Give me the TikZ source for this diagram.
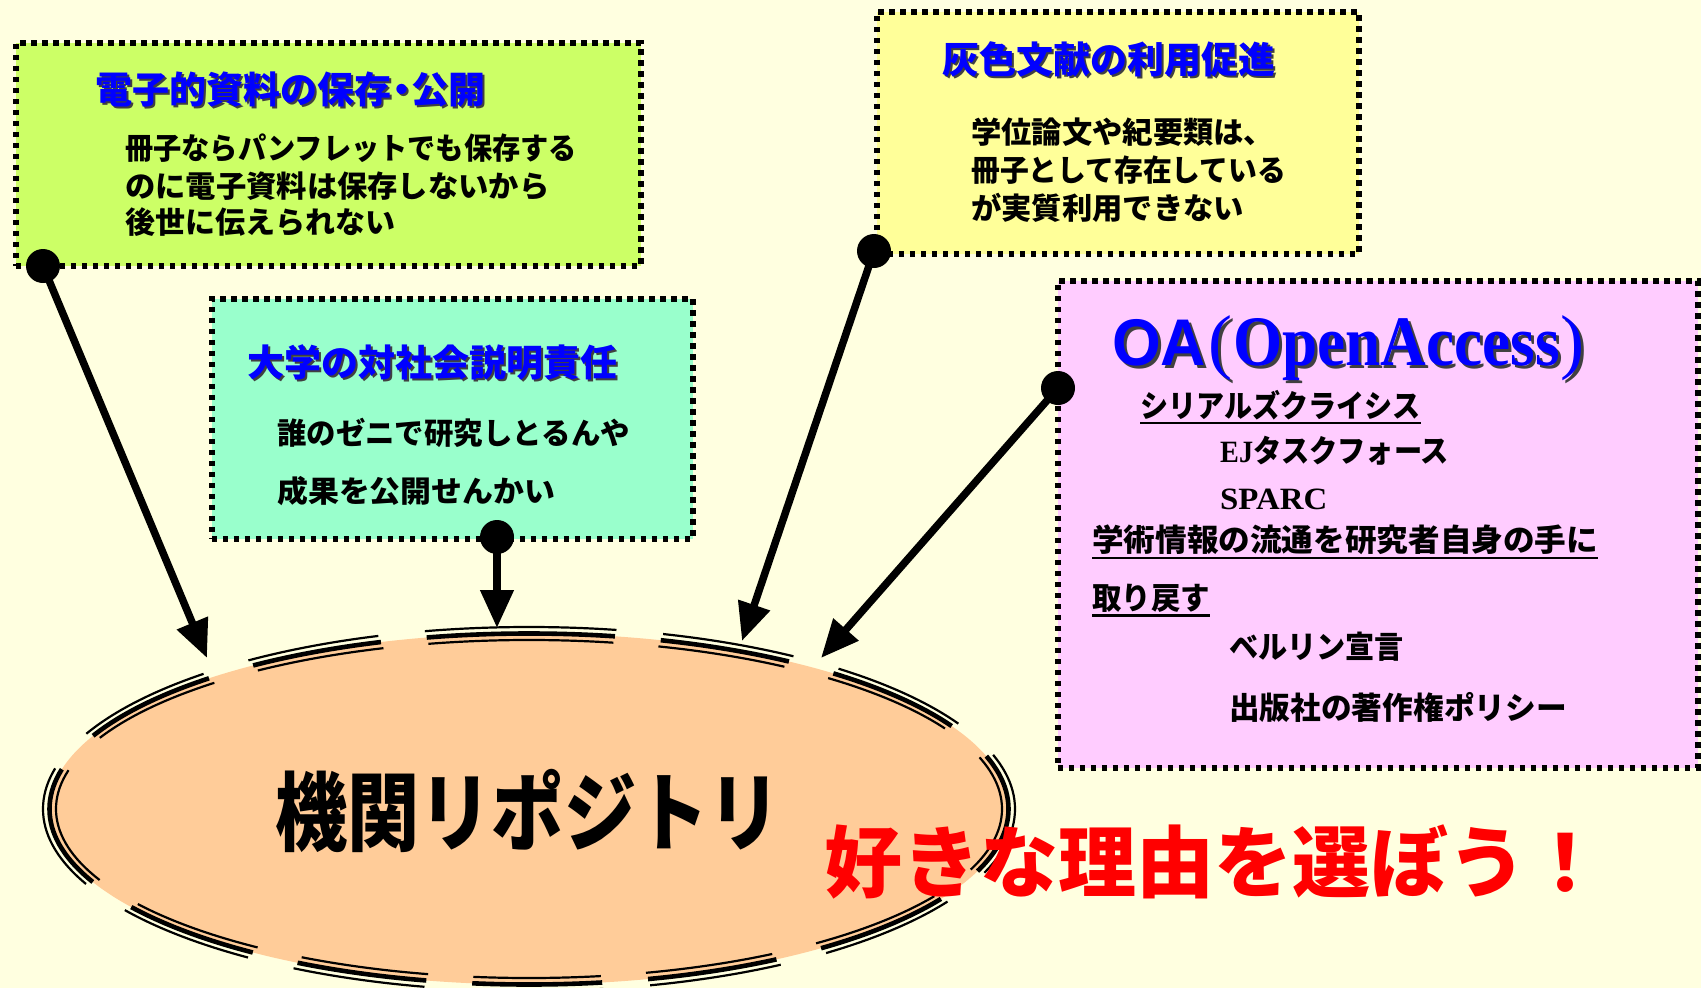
\documentclass[tikz,border=0pt]{standalone}
\usepackage{fontspec}
\setmainfont{Noto Sans CJK JP}
\newfontfamily\tms{Liberation Serif}
\newfontfamily\ars{Liberation Sans}
\usetikzlibrary{arrows.meta}
\definecolor{bgc}{RGB}{255,255,224}
\definecolor{greenbox}{RGB}{204,255,102}
\definecolor{yellowbox}{RGB}{255,255,153}
\definecolor{tealbox}{RGB}{153,255,204}
\definecolor{pinkbox}{RGB}{255,204,255}
\definecolor{peach}{RGB}{255,204,153}
\definecolor{ttlblue}{RGB}{0,0,255}
\definecolor{redtxt}{RGB}{255,0,0}
\newcommand\fsz[1]{\fontsize{#1}{#1}\selectfont}
\newcommand\cx[2]{\scalebox{#1}[1]{#2}}
\newcommand\shd[2]{\makebox[0pt][l]{\hspace*{#1}\raisebox{-#1}{\color{black!75}#2}}{\color{ttlblue}#2}}
\tikzset{
  boxnode/.style={draw=black, line width=5.5pt, dash pattern=on 5.5pt off 5.5pt, anchor=north west, inner sep=0pt},
  dotnode/.style={circle, fill=black, minimum size=34pt, inner sep=0pt},
  arr/.style={line width=7.5pt, -{Triangle[length=38pt,width=32pt]}},
  ttl/.style={anchor=west, inner sep=0pt, font=\bfseries\fsz{37}},
  bodytxt/.style={anchor=west, inner sep=0pt, font=\bfseries\fsz{30}},
  oatxt/.style={anchor=west, inner sep=0pt, font=\bfseries\fsz{31}},
  ul/.style={line width=2.5pt},
  ringout/.style={draw=black, line width=2.2pt, dash pattern=on 132.31pt off 46.82pt, dash phase=44.78pt},
  ringmid/.style={draw=black, line width=4.6pt, dash pattern=on 130pt off 46pt, dash phase=44pt},
  ringin/.style={draw=black, line width=2.2pt, dash pattern=on 127.69pt off 45.18pt, dash phase=43.22pt},
  repotxt/.style={inner sep=0pt, font=\bfseries\fsz{86}}
}
\begin{document}
\begin{tikzpicture}[x=1pt,y=-1pt]
\fill[bgc] (0,0) rectangle (1701,988);
\useasboundingbox (0,0) rectangle (1701,988);

% central ellipse: peach fill and a thin-thick-thin dashed rim
\coordinate (rc) at (529,809);
\fill[peach] (rc) ellipse [x radius=479.5, y radius=175.5];
\draw[ringout] (rc) ++(0,-182) arc[start angle=270, end angle=630, x radius=486, y radius=182];
\draw[ringmid] (rc) ++(0,-175.5) arc[start angle=270, end angle=630, x radius=479.5, y radius=175.5];
\draw[ringin] (rc) ++(0,-169) arc[start angle=270, end angle=630, x radius=473, y radius=169];
\node[repotxt] (repo) at (528,811) {\cx{0.84}{機関リポジトリ}};

% boxes
\node[boxnode, fill=greenbox, minimum width=625pt, minimum height=223pt] (gbox) at (13,40) {};
\node[boxnode, fill=yellowbox, minimum width=482pt, minimum height=242pt] (ybox) at (874,9) {};
\node[boxnode, fill=tealbox, minimum width=481pt, minimum height=240pt] (tbox) at (209,296) {};
\node[boxnode, fill=pinkbox, minimum width=640pt, minimum height=487pt] (pbox) at (1055,278) {};

% green box text
\node[ttl] (gt) at (95,91) {\shd{2pt}{電子的資料の保存\kern-0.22em・\kern-0.22em公開}};
\node[bodytxt] (g1) at (125,148) {\cx{0.94}{冊子ならパンフレットでも保存する}};
\node[bodytxt] (g2) at (125,186) {\cx{1.01}{のに電子資料は保存しないから}};
\node[bodytxt] (g3) at (125,222) {\cx{1.0}{後世に伝えられない}};

% yellow box text
\node[ttl] (yt) at (942,60) {\shd{2pt}{灰色文献の利用促進}};
\node[bodytxt] (y1) at (971,132) {\cx{1.01}{学位論文や紀要類は、}};
\node[bodytxt] (y2) at (971,170) {\cx{0.96}{冊子として存在している}};
\node[bodytxt] (y3) at (971,208) {\cx{1.01}{が実質利用できない}};

% teal box text
\node[ttl] (tt) at (247,363) {\shd{2pt}{大学の対社会説明責任}};
\node[bodytxt] (t1) at (277,433) {\cx{0.98}{誰のゼニで研究しとるんや}};
\node[bodytxt] (t2) at (277,491) {\cx{1.03}{成果を公開せんかい}};

% pink box text
\node[anchor=west, inner sep=0pt] (pt) at (1112,350) {\shd{3pt}{{\ars\bfseries\fsz{66}\cx{0.95}{OA}}\kern2pt{\tms\fsz{72}(}\kern1pt{\tms\bfseries\fsz{71}\cx{0.89}{OpenAccess}}\kern1pt{\tms\fsz{72})}}};
\node[oatxt] (p1) at (1140,405) {\cx{0.905}{シリアルズクライシス}};
\node[oatxt] (p2) at (1220,451) {\cx{0.91}{{\tms EJ}タスクフォース}};
\node[oatxt] (p3) at (1220,499) {\cx{1.06}{\tms SPARC}};
\node[oatxt] (p4) at (1092,540) {\cx{1.02}{学術情報の流通を研究者自身の手に}};
\node[oatxt] (p5) at (1092,598) {\cx{0.95}{取り戻す}};
\node[oatxt] (p6) at (1229,647) {\cx{0.94}{ベルリン宣言}};
\node[oatxt] (p7) at (1229,707) {\cx{0.99}{出版社の著作権ポリシー}};
\draw[ul] ([yshift=-3pt]p1.south west) -- ([yshift=-3pt]p1.south east);
\draw[ul] ([yshift=-3pt]p4.south west) -- ([yshift=-3pt]p4.south east);
\draw[ul] ([yshift=-3pt]p5.south west) -- ([yshift=-3pt]p5.south east);

% dots and arrow targets
\node[dotnode] (gdot) at (43,266) {};
\node[dotnode] (tdot) at (497,537) {};
\node[dotnode] (ydot) at (874,251) {};
\node[dotnode] (pdot) at (1058,388) {};
\coordinate (gtip) at (207,658);
\coordinate (ttip) at (497,628);
\coordinate (ytip) at (742,641);
\coordinate (ptip) at (821,658);
\draw[arr] (gdot.center) -- (gtip);
\draw[arr] (tdot.center) -- (ttip);
\draw[arr] (ydot.center) -- (ytip);
\draw[arr] (pdot.center) -- (ptip);

% slogan
\node[anchor=west, inner sep=0pt, text=redtxt, font=\bfseries\fsz{78}] (slogan) at (824,862) {好きな理由を選ぼう！};
\end{tikzpicture}
\end{document}
